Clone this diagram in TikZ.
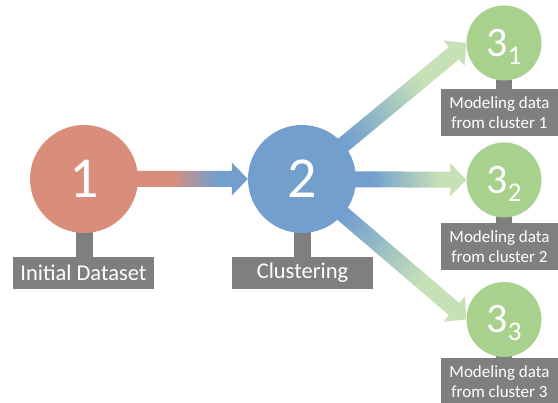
\documentclass[tikz,border=0pt]{standalone}
\usepackage{fontspec}
\setmainfont{Carlito}
\usetikzlibrary{calc}
\definecolor{cred}{HTML}{D98E7B}
\definecolor{cblue}{HTML}{729FCE}
\definecolor{cgreen}{HTML}{A9D18E}
\definecolor{clgreen}{HTML}{C7E1B6}
\definecolor{cgray}{HTML}{7F7F7F}
\pgfdeclarelayer{bg}
\pgfsetlayers{bg,main}
\pgfdeclarehorizontalshading{redblue}{100bp}{color(0bp)=(cred); color(41bp)=(cred); color(61bp)=(cblue); color(100bp)=(cblue)}
\pgfdeclarehorizontalshading{bluegreenH}{100bp}{color(0bp)=(cblue); color(33bp)=(cblue); color(63bp)=(clgreen); color(100bp)=(clgreen)}
\pgfdeclarehorizontalshading{bluegreenD}{100bp}{color(0bp)=(cblue); color(20bp)=(cblue); color(61bp)=(clgreen); color(100bp)=(clgreen)}
\newcommand\fatarrow[4]{%
  \coordinate (fa-s) at ($(#1)!-2pt!(#2)$);
  \coordinate (fa-h) at ($(#2)!16pt!(#1)$);
  \shade[shading=#3, shading angle=#4]
    ($(fa-s)!8pt!90:(#2)$) -- ($(fa-h)!8pt!90:(#2)$) -- ($(fa-h)!16.5pt!90:(#2)$) -- (#2)
    -- ($(fa-h)!16.5pt!-90:(#2)$) -- ($(fa-h)!8pt!-90:(#2)$) -- ($(fa-s)!8pt!-90:(#2)$) -- cycle;}
\tikzset{
  bigc/.style={circle, minimum size=108pt, inner sep=0pt, text=white, font=\fontsize{58}{58}\selectfont},
  smallc/.style={circle, fill=cgreen, minimum size=75pt, inner sep=0pt, text=white, font=\fontsize{42}{42}\selectfont},
  biglab/.style={rectangle, fill=cgray, text=white, minimum width=141pt, minimum height=32pt, inner sep=0pt, font=\fontsize{22.5}{24}\selectfont},
  smalllab/.style={rectangle, fill=cgray, text=white, minimum width=117pt, minimum height=47pt, inner sep=0pt, align=center, font=\fontsize{17}{20}\selectfont},
  stem/.style={fill=cgray}
}
\newcommand\subdig[1]{\smash{\raisebox{-8pt}{\fontsize{27}{27}\selectfont #1}}}
\begin{document}
\begin{tikzpicture}[x=1pt,y=-1pt]
\useasboundingbox (0,0) rectangle (558,403);
% stems
\fill[stem] (76,179) rectangle (93,258);
\fill[stem] (294,179) rectangle (311,258);
\fill[stem] (496,43) rectangle (512,90);
\fill[stem] (496,180) rectangle (512,224);
\fill[stem] (496,319.5) rectangle (512,359);
% labels
\node[biglab] (l1) at (83.5,273) {Initial Dataset};
\node[biglab] (l2) at (302.5,273) {Clustering};
\node[smalllab] (l31) at (499.5,113) {Modeling data\\from cluster 1};
\node[smalllab] (l32) at (499.5,246.5) {Modeling data\\from cluster 2};
\node[smalllab] (l33) at (499.5,381.5) {Modeling data\\from cluster 3};
% circles
\node[bigc, fill=cred] (n1) at (84,179) {1};
\node[bigc, fill=cblue] (n2) at (302,179) {2};
\node[smallc] (n31) at (504,43) {3\subdig{1}};
\node[smallc] (n32) at (504,180) {3\subdig{2}};
\node[smallc] (n33) at (504,319.5) {3\subdig{3}};
% arrows underneath
\begin{pgfonlayer}{bg}
\path (n1) -- (n2) coordinate[pos=0] (a1s) coordinate[pos=1] (a1t);
\path (n2) -- (n32) coordinate[pos=0] (a32s) coordinate[pos=1] (a32t);
\path (n2) -- (n31.west) coordinate[pos=0] (a31s);
\path (n2) -- (n33.west) coordinate[pos=0] (a33s);
\fatarrow{a1s}{a1t}{redblue}{0}
\fatarrow{a32s}{a32t}{bluegreenH}{0}
\fatarrow{a31s}{n31.west}{bluegreenD}{39.3}
\fatarrow{a33s}{n33.west}{bluegreenD}{-39.5}
\end{pgfonlayer}
\end{tikzpicture}
\end{document}
